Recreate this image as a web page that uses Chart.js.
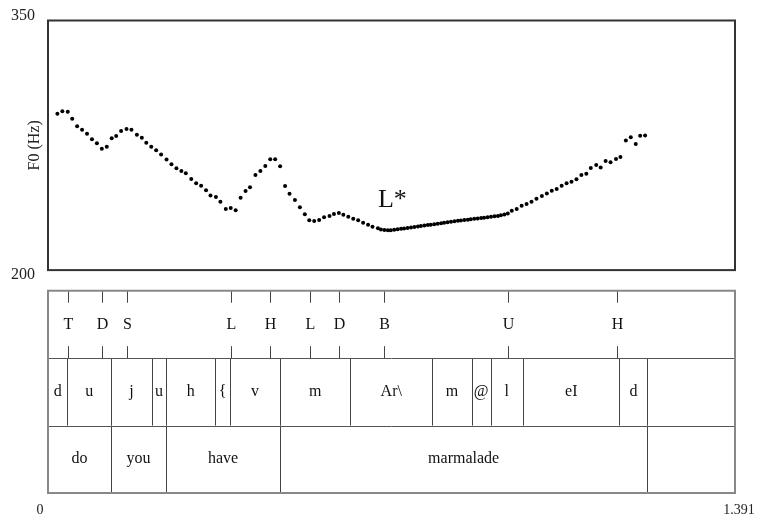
<!DOCTYPE html>
<html>
<head>
<meta charset="utf-8">
<script src="https://cdn.jsdelivr.net/npm/chart.js@4/dist/chart.umd.min.js"></script>
<style>
  html, body { margin: 0; padding: 0; background: #fff; }
  canvas { display: block; }
</style>
</head>
<body>
<canvas id="pitch" width="759" height="522"></canvas>
<script>
// F0 track (s, Hz)
const times = [
  0.019, 0.029, 0.040, 0.049, 0.059, 0.069, 0.079, 0.089, 0.099, 0.109,
  0.119, 0.129, 0.138, 0.148, 0.159, 0.169, 0.180, 0.190, 0.199, 0.209,
  0.219, 0.229, 0.240, 0.250, 0.260, 0.270, 0.279, 0.290, 0.300, 0.310,
  0.320, 0.329, 0.340, 0.349, 0.360, 0.370, 0.380, 0.390, 0.400, 0.409,
  0.420, 0.430, 0.440, 0.450, 0.460, 0.470, 0.480, 0.489, 0.500, 0.510,
  0.520, 0.529, 0.539, 0.549, 0.559, 0.570, 0.579, 0.589, 0.598, 0.608,
  0.618, 0.628, 0.638, 0.648, 0.657, 0.668,
  0.674, 0.681, 0.688, 0.694, 0.701, 0.708, 0.715, 0.721, 0.728, 0.735,
  0.742, 0.749, 0.755, 0.762, 0.769, 0.775, 0.782, 0.789, 0.796, 0.802,
  0.809, 0.816, 0.823, 0.830, 0.836, 0.843, 0.850, 0.856, 0.863, 0.870,
  0.877, 0.883, 0.890, 0.897, 0.904, 0.911, 0.917, 0.924, 0.931,
  0.939, 0.949, 0.959, 0.969, 0.979, 0.989, 1.000, 1.010, 1.020, 1.030,
  1.040, 1.050, 1.060, 1.070, 1.080, 1.090, 1.099, 1.110, 1.119, 1.129,
  1.139, 1.150, 1.159, 1.170, 1.180, 1.190, 1.199, 1.209
];
const f0 = [
  293.9, 295.5, 295.2, 291.0, 286.5, 284.4, 282.0, 278.6, 276.2, 273.0,
  274.2, 279.2, 280.6, 283.6, 284.8, 284.4, 281.4, 279.6, 276.6, 274.2,
  272.0, 269.4, 266.4, 263.6, 261.2, 259.6, 258.2, 254.8, 252.2, 250.7,
  248.0, 244.9, 243.9, 241.1, 236.7, 237.3, 235.9, 243.5, 247.5, 249.8,
  257.2, 259.6, 262.6, 266.6, 266.6, 262.4, 250.5, 245.9, 242.1, 237.7,
  233.5, 229.9, 229.5, 230.1, 231.7, 232.5, 233.7, 234.3, 233.3, 232.1,
  230.9, 229.9, 228.5, 227.3, 226.1, 225.1,
  224.4, 224.1, 223.9, 223.9, 224.2, 224.5, 224.8, 225.0, 225.3, 225.6,
  225.9, 226.2, 226.5, 226.8, 227.1, 227.3, 227.6, 227.9, 228.2, 228.5,
  228.8, 229.1, 229.4, 229.6, 229.8, 230.1, 230.3, 230.6, 230.8, 231.0,
  231.3, 231.5, 231.8, 232.0, 232.3, 232.5, 232.9, 233.4, 234.0,
  235.7, 236.7, 238.7, 239.7, 241.1, 242.9, 244.6, 246.1, 247.7, 248.7,
  250.7, 252.2, 253.1, 254.6, 257.2, 257.9, 261.3, 263.1, 261.7, 265.5,
  264.8, 266.7, 268.0, 277.9, 279.8, 275.8, 280.7, 280.9
];

// axis ranges / tick labels
const timeTicks = [0, 1.391];
const f0Ticks = [200, 350];
const f0Title = 'F0 (Hz)';

// tier 1: tone points
const toneTimes = [0.041, 0.110, 0.159, 0.370, 0.450, 0.530, 0.590, 0.680, 0.931, 1.153];
const toneLabels = ['T', 'D', 'S', 'L', 'H', 'L', 'D', 'B', 'U', 'H'];

// tier 2: phones (boundaries between intervals)
const phoneBounds = [0, 0.039, 0.128, 0.210, 0.239, 0.339, 0.3685, 0.470, 0.612, 0.778, 0.858, 0.896, 0.962, 1.157, 1.2135, 1.391];
const phoneLabels = ['d', 'u', 'j', 'u', 'h', '{', 'v', 'm', 'Ar\\', 'm', '@', 'l', 'eI', 'd', ''];

// tier 3: words
const wordBounds = [0, 0.1276, 0.2389, 0.4697, 1.2135, 1.391];
const wordLabels = ['do', 'you', 'have', 'marmalade', ''];

// nuclear accent label
const accentText = 'L*';
const accentTime = 0.668;
const accentF0 = 242;

const SERIF = "'Liberation Serif', 'DejaVu Serif', serif";
const TIER_GAP = 0.306; // gap between pitch box and text grid, in tier units

const textGridPlugin = {
    id: 'textGrid',
    afterDraw(chart){
        const ctx = chart.ctx;
        const x = chart.scales.x, y = chart.scales.y, tg = chart.scales.tg;
        const left = x.getPixelForValue(timeTicks[0]);
        const right = x.getPixelForValue(timeTicks[1]);
        ctx.save();

        // pitch box
        ctx.strokeStyle = '#333';
        ctx.lineWidth = 2;
        ctx.strokeRect(left, y.getPixelForValue(f0Ticks[1]), right - left,
            y.getPixelForValue(f0Ticks[0]) - y.getPixelForValue(f0Ticks[1]));

        // y labels (outside the box, Praat style)
        ctx.fillStyle = '#222';
        ctx.font = '16px ' + SERIF;
        ctx.textAlign = 'right';
        ctx.textBaseline = 'middle';
        ctx.fillText(String(f0Ticks[1]), left - 13, y.getPixelForValue(f0Ticks[1]) - 5);
        ctx.fillText(String(f0Ticks[0]), left - 13, y.getPixelForValue(f0Ticks[0]) + 5);

        ctx.save();
        ctx.translate(left - 5, (y.top + y.bottom) / 2);
        ctx.rotate(-Math.PI / 2);
        ctx.textAlign = 'center';
        ctx.textBaseline = 'bottom';
        ctx.fillText(f0Title, 0, 0);
        ctx.restore();

        // accent label
        ctx.font = '26px ' + SERIF;
        ctx.textAlign = 'left';
        ctx.textBaseline = 'middle';
        ctx.fillStyle = '#111';
        ctx.fillText(accentText, x.getPixelForValue(accentTime), y.getPixelForValue(accentF0));

        // text grid rows
        const rowTop = i => tg.getPixelForValue(3 - i);
        const rowBot = i => tg.getPixelForValue(2 - i);

        ctx.font = '16px ' + SERIF;
        ctx.textAlign = 'center';
        ctx.textBaseline = 'middle';
        ctx.strokeStyle = '#444';
        ctx.lineWidth = 1;

        // tones: ticks at top and bottom of the tier
        const tk = 12;
        toneTimes.forEach((t, i) => {
            const px = Math.round(x.getPixelForValue(t)) + 0.5;
            ctx.beginPath();
            ctx.moveTo(px, rowTop(0)); ctx.lineTo(px, rowTop(0) + tk);
            ctx.moveTo(px, rowBot(0) - tk); ctx.lineTo(px, rowBot(0));
            ctx.stroke();
            ctx.fillText(toneLabels[i], px, (rowTop(0) + rowBot(0)) / 2);
        });

        function drawIntervals(bounds, labels, row){
            const top = rowTop(row), bot = rowBot(row);
            for(let i = 1; i < bounds.length - 1; i++){
                const px = Math.round(x.getPixelForValue(bounds[i])) + 0.5;
                ctx.beginPath();
                ctx.moveTo(px, top); ctx.lineTo(px, bot);
                ctx.stroke();
            }
            labels.forEach((lab, i) => {
                if(!lab) return;
                const cx = (x.getPixelForValue(bounds[i]) + x.getPixelForValue(bounds[i + 1])) / 2;
                ctx.fillText(lab, cx, (top + bot) / 2);
            });
        }
        drawIntervals(phoneBounds, phoneLabels, 1);
        drawIntervals(wordBounds, wordLabels, 2);

        // tier separators and outer frame
        ctx.strokeStyle = '#555';
        ctx.beginPath();
        [1, 2].forEach(r => {
            const py = Math.round(rowTop(r)) + 0.5;
            ctx.moveTo(left, py); ctx.lineTo(right, py);
        });
        ctx.stroke();
        ctx.strokeStyle = '#888';
        ctx.lineWidth = 2;
        ctx.strokeRect(left, rowTop(0), right - left, rowBot(2) - rowTop(0));

        // time labels
        ctx.fillStyle = '#222';
        ctx.font = '14px ' + SERIF;
        ctx.textBaseline = 'middle';
        ctx.textAlign = 'center';
        ctx.fillText(String(timeTicks[0]), left - 8, rowBot(2) + 17);
        ctx.fillText(String(timeTicks[1]), right + 4, rowBot(2) + 17);

        ctx.restore();
    }
};

new Chart(document.getElementById('pitch'), {
    type: 'scatter',
    data: {
        datasets: [{
            data: times.map((t, i) => ({x: t, y: f0[i]})),
            xAxisID: 'x',
            yAxisID: 'y',
            pointRadius: 2,
            pointBackgroundColor: '#000',
            pointBorderWidth: 0,
            showLine: false
        }]
    },
    options: {
        responsive: false,
        animation: false,
        layout: { padding: { left: 48, right: 24, top: 20.5, bottom: 29 } },
        plugins: { legend: { display: false }, tooltip: { enabled: false } },
        scales: {
            x: { type: 'linear', axis: 'x', position: 'bottom', min: timeTicks[0], max: timeTicks[1], display: false },
            y: {
                type: 'linear', axis: 'y', position: 'left', min: f0Ticks[0], max: f0Ticks[1], display: false,
                stack: 'v', stackWeight: 249.5, weight: 2
            },
            tg: {
                type: 'linear', axis: 'y', position: 'left', min: 0, max: 3 + TIER_GAP, display: false,
                stack: 'v', stackWeight: 222.8, weight: 1
            }
        }
    },
    plugins: [textGridPlugin]
});
</script>
</body>
</html>
